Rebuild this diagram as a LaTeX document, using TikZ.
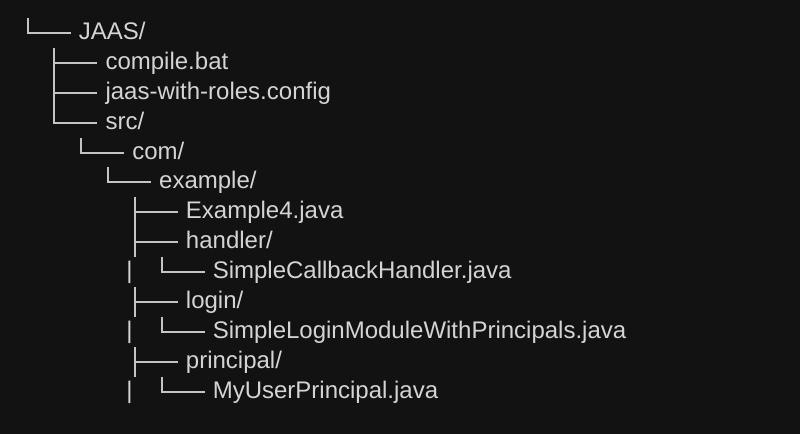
\documentclass[tikz,border=0pt]{standalone}
\usepackage{fontspec}
\setmainfont{Liberation Sans}
\usetikzlibrary{positioning, calc}

\definecolor{bgdark}{RGB}{18,18,18}
\definecolor{textgray}{RGB}{212,212,212}
\definecolor{linegray}{RGB}{196,196,196}

\begin{document}
\begin{tikzpicture}[
    x=0.75pt, y=-0.75pt,
    entry/.style={anchor=west, inner xsep=6pt, inner ysep=0pt, text=textgray,
        font=\fontsize{18pt}{22pt}\selectfont, text height=13.5pt, text depth=3.8pt},
    pipe/.style={entry, anchor=center, inner xsep=0pt},
    branch/.style={draw=linegray, line width=1.5pt}
]

    % Background
    \fill[bgdark] (0,0) rectangle (800,434);

    % Entries (row n at y = 33 + 29.9 n)
    \node[entry] (n0)  at (70.5,  33.0) {JAAS/};
    \node[entry] (n1)  at (97.3,  62.9) {compile.bat};
    \node[entry] (n2)  at (97.3,  92.8) {jaas-with-roles.config};
    \node[entry] (n3)  at (97.3, 122.7) {src/};
    \node[entry] (n4)  at (124.1, 152.6) {com/};
    \node[entry] (n5)  at (150.9, 182.5) {example/};
    \node[entry] (n6)  at (177.7, 212.4) {Example4.java};
    \node[entry] (n7)  at (177.7, 242.3) {handler/};
    \node[entry] (n8)  at (204.5, 272.2) {SimpleCallbackHandler.java};
    \node[entry] (n9)  at (177.7, 302.1) {login/};
    \node[entry] (n10) at (204.5, 332.0) {SimpleLoginModuleWithPrincipals.java};
    \node[entry] (n11) at (177.7, 361.9) {principal/};
    \node[entry] (n12) at (204.5, 391.8) {MyUserPrincipal.java};

    % Pipes
    \node[pipe] (p8)  at (129.5, 272.2) {|};
    \node[pipe] (p10) at (129.5, 332.0) {|};
    \node[pipe] (p12) at (129.5, 391.8) {|};

    % Branches (last child: corner only, else full height)
    \foreach \n/\last in {0/1, 1/0, 2/0, 3/1, 4/1, 5/1, 6/0, 7/0, 8/1, 9/0, 10/1, 11/0, 12/1} {
        \coordinate (top\n) at ($(n\n.west)+(-43,-15)$);
        \draw[branch] (top\n) |- (n\n.west);
        \ifnum\last=0
            \draw[branch] (top\n) -- ++(0,30);
        \fi
    }

\end{tikzpicture}
\end{document}
